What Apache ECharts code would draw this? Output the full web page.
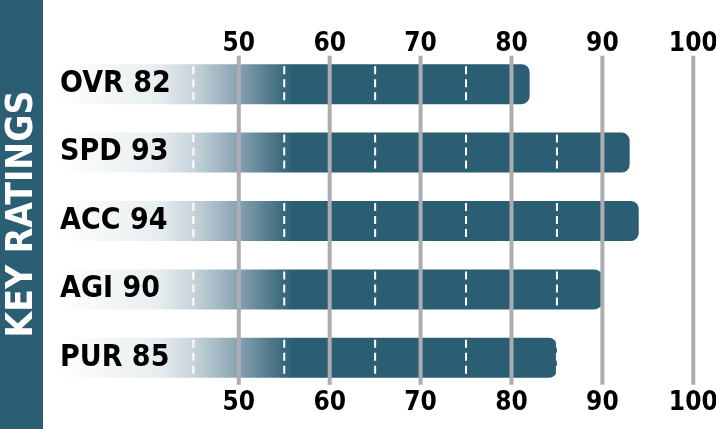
<!DOCTYPE html>
<html>
<head>
<meta charset="utf-8">
<script src="https://cdn.jsdelivr.net/npm/echarts@6/dist/echarts.min.js"></script>
<style>
html,body{margin:0;padding:0;background:#fff;}
#chart{width:716px;height:429px;}
</style>
</head>
<body>
<div id="chart"></div>
<script>
// ---- data ----
var categories = ['OVR', 'SPD', 'ACC', 'AGI', 'PUR'];
var ratings = [82, 93, 94, 90, 85];
var gridTicks = [50, 60, 70, 80, 90, 100];
var dashMarks = [45, 55, 65, 75, 85];
var title = 'KEY RATINGS';
var axisStart = 30;
var axisEnd = 102.5;

var TEAL = '#2b5e73';
var FONT = "'Liberation Sans Narrow', 'DejaVu Sans Condensed', 'Roboto Condensed', Arial, sans-serif";

// gradient stops expressed in axis values (white -> teal)
var gradStops = [
  [30, '#ffffff'],
  [41, '#e8eef0'],
  [45, '#c6d4da'],
  [50, '#86a2b0'],
  [53, '#587f91'],
  [55, '#3a687c'],
  [56, TEAL]
];

var chart = echarts.init(document.getElementById('chart'));

var baseData = ratings.map(function () { return axisStart; });
var barData = ratings.map(function (r) {
  var len = r - axisStart;
  var stops = gradStops.map(function (s) {
    return { offset: Math.min(1, (s[0] - axisStart) / len), color: s[1] };
  });
  return {
    value: len,
    itemStyle: { color: new echarts.graphic.LinearGradient(0, 0, 1, 0, stops) }
  };
});

var dashData = ratings.map(function (r, i) { return [r, i]; });
var gridData = gridTicks.map(function (t) { return [t]; });

function tickLabel(v) { return (v >= 50 && v % 10 === 0) ? String(v) : ''; }

var option = {
  animation: false,
  grid: { left: 57, right: 0, top: 50, bottom: 37, containLabel: false, outerBoundsMode: 'none' },
  xAxis: [
    {
      type: 'value', position: 'top', min: axisStart, max: axisEnd, interval: 10,
      axisLine: { show: false }, axisTick: { show: false }, splitLine: { show: false },
      axisLabel: {
        margin: 6, verticalAlign: 'middle', color: '#000', fontSize: 26, fontWeight: 'bold', fontFamily: FONT,
        formatter: tickLabel
      }
    },
    {
      type: 'value', position: 'bottom', min: axisStart, max: axisEnd, interval: 10,
      axisLine: { show: false }, axisTick: { show: false }, splitLine: { show: false },
      axisLabel: {
        margin: 11, verticalAlign: 'middle', color: '#000', fontSize: 26, fontWeight: 'bold', fontFamily: FONT,
        formatter: tickLabel
      }
    }
  ],
  yAxis: {
    type: 'category', data: categories, inverse: true, z: 10,
    axisLine: { show: false }, axisTick: { show: false }, splitLine: { show: false },
    axisLabel: {
      inside: true, margin: 3, color: '#000', fontSize: 30, fontWeight: 'bold', fontFamily: FONT,
      formatter: function (v, i) { return v + ' ' + ratings[i]; }
    }
  },
  graphic: [
    { type: 'rect', left: 0, top: 0, shape: { width: 43, height: 429 }, style: { fill: TEAL }, z: 0 },
    {
      type: 'text', x: 22, y: 214, rotation: Math.PI / 2, z: 20,
      style: {
        text: title, fill: '#fff', font: 'bold 37px ' + FONT,
        textAlign: 'center', textVerticalAlign: 'middle'
      }
    }
  ],
  series: [
    {
      type: 'bar', stack: 'r', data: baseData, barWidth: 40, silent: true,
      itemStyle: { color: 'rgba(0,0,0,0)' }
    },
    {
      type: 'bar', stack: 'r', data: barData, barWidth: 40, silent: true,
      itemStyle: { borderRadius: [0, 8, 8, 0] }
    },
    {
      type: 'custom', z: 5, silent: true, data: dashData,
      encode: { x: 0, y: 1 },
      renderItem: function (params, api) {
        var r = api.value(0), idx = api.value(1);
        var c = api.coord([axisStart, idx]);
        var half = 20;
        var children = [];
        dashMarks.forEach(function (d) {
          if (d <= r) {
            var p = api.coord([d, idx]);
            children.push({
              type: 'line',
              shape: { x1: p[0], y1: c[1] - half + 2, x2: p[0], y2: c[1] + half },
              style: { stroke: '#fff', lineWidth: 2, lineDash: [8, 5] }
            });
          }
        });
        return { type: 'group', children: children };
      }
    },
    {
      type: 'custom', z: 6, silent: true, data: gridData,
      encode: { x: 0 },
      renderItem: function (params, api) {
        var v = api.value(0);
        var band = api.size([0, 1])[1];
        var top = api.coord([v, 0])[1] - band * 0.415;
        var bot = api.coord([v, categories.length - 1])[1] + band * 0.395;
        var x = api.coord([v, 0])[0];
        return {
          type: 'line',
          shape: { x1: x, y1: top, x2: x, y2: bot },
          style: { stroke: '#adadb1', lineWidth: 4 }
        };
      }
    }
  ]
};
chart.setOption(option);
</script>
</body>
</html>
